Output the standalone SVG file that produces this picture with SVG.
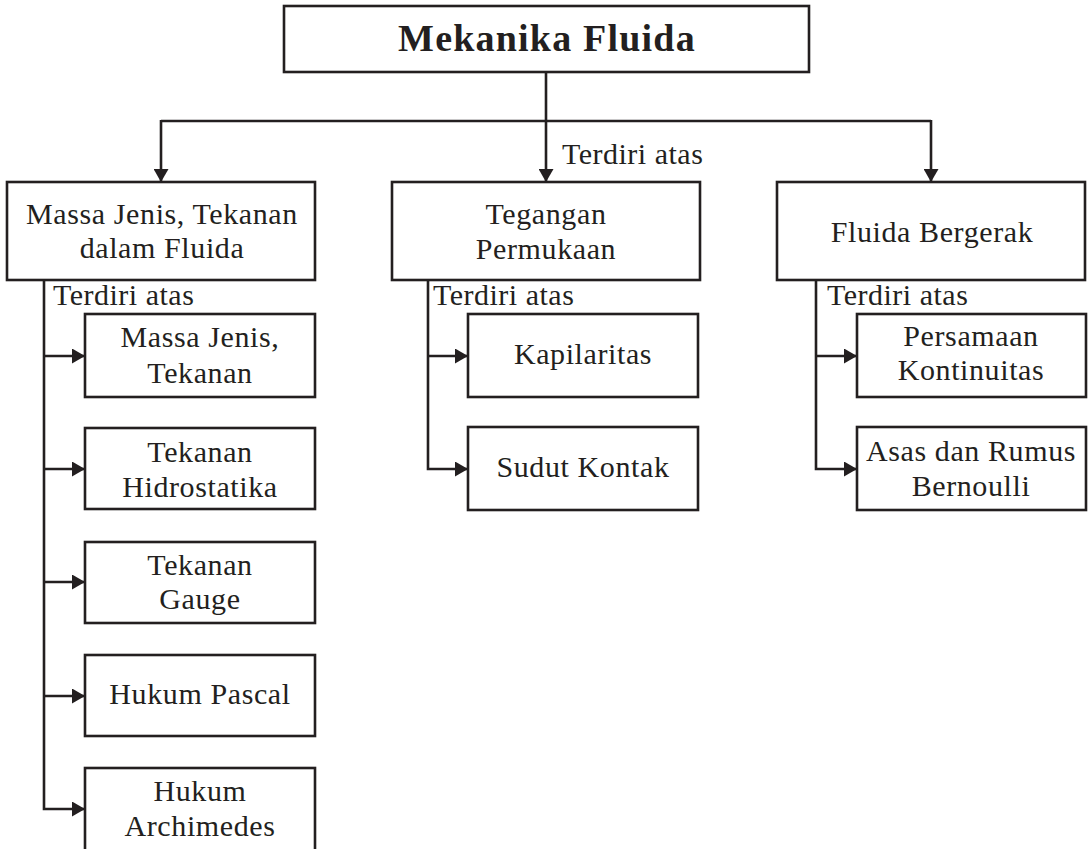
<svg xmlns="http://www.w3.org/2000/svg" width="1090" height="849" viewBox="0 0 1090 849">
<defs>
<style>
.box{fill:#fff;stroke:#231f20;stroke-width:2.6}
.ln{fill:none;stroke:#231f20;stroke-width:2.6}
.t{font-family:"Liberation Serif","Times New Roman",serif;font-size:30px;fill:#231f20;letter-spacing:0.6px;text-anchor:middle}
.lbl{font-family:"Liberation Serif","Times New Roman",serif;font-size:30px;fill:#231f20;letter-spacing:0.5px}
.title{font-family:"Liberation Serif","Times New Roman",serif;font-size:38px;font-weight:bold;fill:#231f20;letter-spacing:1.2px;text-anchor:middle}
</style>
<marker id="ah" viewBox="0 0 13 15" refX="13" refY="7.5" markerWidth="13" markerHeight="15" markerUnits="userSpaceOnUse" orient="auto">
<path d="M0,0 L13,7.5 L0,15 Z" fill="#231f20"/>
</marker>
</defs>
<rect width="1090" height="849" fill="#fff"/>
<g id="connectors">
<path class="ln" d="M546,72 V182" marker-end="url(#ah)"/>
<path class="ln" d="M161,121 H931"/>
<path class="ln" d="M161,120 V182" marker-end="url(#ah)"/>
<path class="ln" d="M931,120 V182" marker-end="url(#ah)"/>
<path class="ln" d="M44,280 V809 H85" marker-end="url(#ah)"/>
<path class="ln" d="M44,356 H85" marker-end="url(#ah)"/>
<path class="ln" d="M44,469 H85" marker-end="url(#ah)"/>
<path class="ln" d="M44,582 H85" marker-end="url(#ah)"/>
<path class="ln" d="M44,696 H85" marker-end="url(#ah)"/>
<path class="ln" d="M428,280 V469 H468" marker-end="url(#ah)"/>
<path class="ln" d="M428,356 H468" marker-end="url(#ah)"/>
<path class="ln" d="M816,280 V469 H857" marker-end="url(#ah)"/>
<path class="ln" d="M816,356 H857" marker-end="url(#ah)"/>
<text class="lbl" x="562" y="164">Terdiri atas</text>
<text class="lbl" x="53" y="305">Terdiri atas</text>
<text class="lbl" x="433" y="305">Terdiri atas</text>
<text class="lbl" x="827" y="305">Terdiri atas</text>
</g>
<g id="mekanika">
<rect class="box" x="284" y="6" width="525" height="66"/>
<text class="title" x="547" y="51">Mekanika Fluida</text>
</g>
<g id="massa-jenis-tekanan-fluida">
<rect class="box" x="7" y="182" width="308" height="98"/>
<text class="t" x="162" y="224">Massa Jenis, Tekanan</text>
<text class="t" x="162" y="258">dalam Fluida</text>
</g>
<g id="tegangan-permukaan">
<rect class="box" x="392" y="182" width="308" height="98"/>
<text class="t" x="546" y="224">Tegangan</text>
<text class="t" x="546" y="259">Permukaan</text>
</g>
<g id="fluida-bergerak">
<rect class="box" x="777" y="182" width="308" height="98"/>
<text class="t" x="932" y="242">Fluida Bergerak</text>
</g>
<g id="massa-jenis">
<rect class="box" x="85" y="314" width="230" height="83"/>
<text class="t" x="200" y="347">Massa Jenis,</text>
<text class="t" x="200" y="383">Tekanan</text>
</g>
<g id="hidrostatika">
<rect class="box" x="85" y="428" width="230" height="81"/>
<text class="t" x="200" y="462">Tekanan</text>
<text class="t" x="200" y="497">Hidrostatika</text>
</g>
<g id="gauge">
<rect class="box" x="85" y="542" width="230" height="81"/>
<text class="t" x="200" y="575">Tekanan</text>
<text class="t" x="200" y="609">Gauge</text>
</g>
<g id="pascal">
<rect class="box" x="85" y="655" width="230" height="81"/>
<text class="t" x="200" y="704">Hukum Pascal</text>
</g>
<g id="archimedes">
<rect class="box" x="85" y="768" width="230" height="90"/>
<text class="t" x="200" y="801">Hukum</text>
<text class="t" x="200" y="836">Archimedes</text>
</g>
<g id="kapilaritas">
<rect class="box" x="468" y="314" width="230" height="83"/>
<text class="t" x="583" y="364">Kapilaritas</text>
</g>
<g id="sudut-kontak">
<rect class="box" x="468" y="427" width="230" height="83"/>
<text class="t" x="583" y="477">Sudut Kontak</text>
</g>
<g id="kontinuitas">
<rect class="box" x="857" y="314" width="229" height="83"/>
<text class="t" x="971" y="346">Persamaan</text>
<text class="t" x="971" y="380">Kontinuitas</text>
</g>
<g id="bernoulli">
<rect class="box" x="857" y="427" width="229" height="83"/>
<text class="t" x="971" y="461">Asas dan Rumus</text>
<text class="t" x="971" y="496">Bernoulli</text>
</g>
</svg>
